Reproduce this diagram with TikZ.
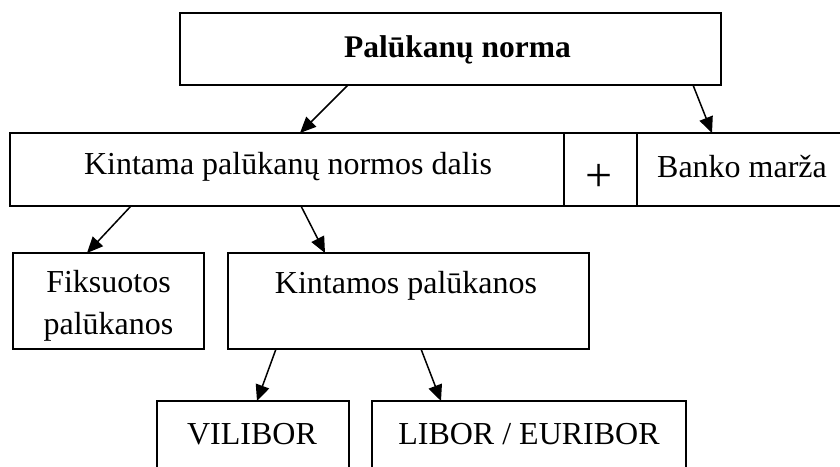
\documentclass[tikz,border=0pt]{standalone}
\usepackage{fontspec}
\setmainfont{Liberation Serif}
\usetikzlibrary{arrows.meta}
\begin{document}
\begin{tikzpicture}[x=1pt,y=-1pt,
  box/.style={draw,line width=1.6pt,rectangle,inner sep=0pt,outer sep=0pt},
  arr/.style={line width=1.5pt,-{Triangle[length=16pt,width=14pt]}},
  txt/.style={font=\fontsize{32}{42}\selectfont,inner sep=0pt,align=center}]
\useasboundingbox (0,0) rectangle (840,466);
\clip (0,0) rectangle (840,466);
% boxes
\node[box,line width=2.6pt,minimum width=541pt,minimum height=72pt] (top) at (450.5,49) {};
\node[box,minimum width=554pt,minimum height=73pt] (kin) at (287,169.5) {};
\node[box,minimum width=73pt,minimum height=73pt] (plus) at (600.5,169.5) {};
\node[box,minimum width=223pt,minimum height=73pt] (banko) at (748.5,169.5) {};
\node[box,minimum width=191pt,minimum height=96pt] (fik) at (108.5,301) {};
\node[box,minimum width=361pt,minimum height=96pt] (kp) at (408.5,301) {};
\node[box,minimum width=192pt,minimum height=89pt] (vil) at (253,445.5) {};
\node[box,minimum width=314pt,minimum height=89pt] (lib) at (529,445.5) {};
% texts
\node[txt,font=\fontsize{31.5}{38}\selectfont\bfseries] (ttop) at (457.5,50) {Palūkanų norma};
\node[txt] (tkin) at (288,167) {Kintama palūkanų normos dalis};
\node[txt,font=\fontsize{48}{48}\selectfont] (tplus) at (599,178) {+};
\node[txt] (tbanko) at (742,167) {Banko marža};
\node[txt] (tfik) at (108.5,306) {Fiksuotos\\palūkanos};
\node[txt] (tkp) at (406,286) {Kintamos palūkanos};
\node[txt] (tvil) at (252,434) {VILIBOR};
\node[txt] (tlib) at (529,434) {LIBOR / EURIBOR};
% arrows
\draw[arr] ([xshift=-102.5pt]top.south) -- ([xshift=13pt]kin.north);
\draw[arr] ([xshift=242.5pt]top.south) -- ([xshift=-36.5pt]banko.north);
\draw[arr] ([xshift=-156pt]kin.south) -- ([xshift=-21.5pt]fik.north);
\draw[arr] ([xshift=14pt]kin.south) -- ([xshift=-83.5pt]kp.north);
\draw[arr] ([xshift=-132.5pt]kp.south) -- ([xshift=4pt]vil.north);
\draw[arr] ([xshift=12.5pt]kp.south) -- ([xshift=-88pt]lib.north);
\end{tikzpicture}
\end{document}
